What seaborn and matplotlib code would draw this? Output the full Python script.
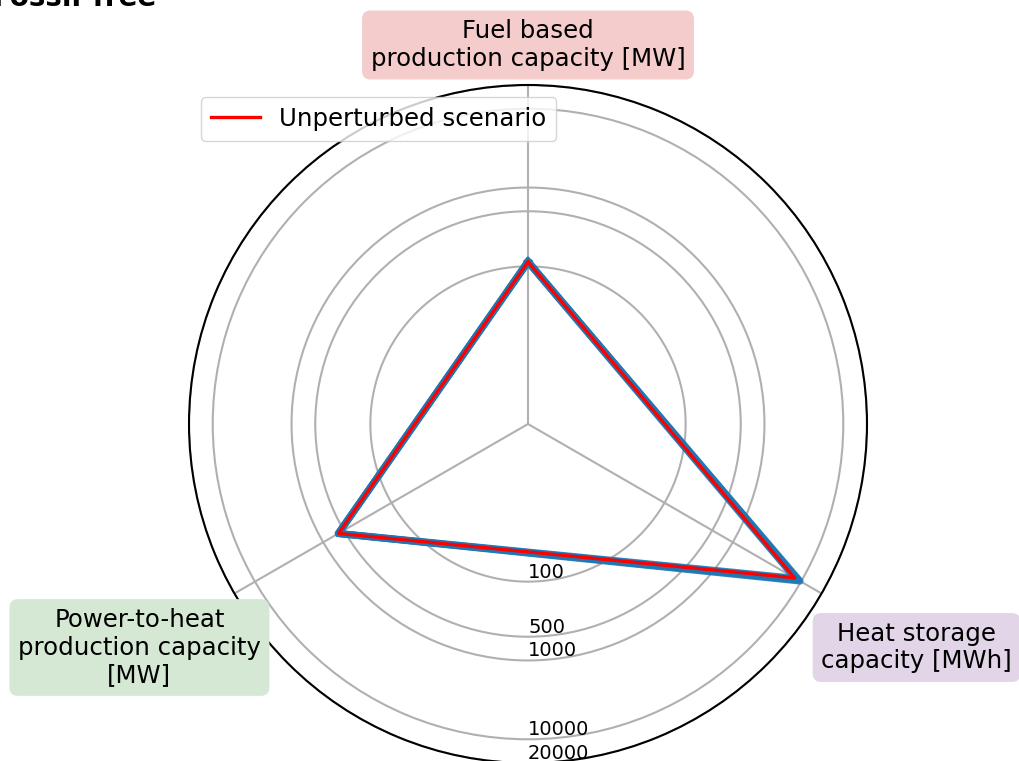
import numpy as np
import pandas as pd
import seaborn as sns
import matplotlib.pyplot as plt

# categories, clockwise from the top
categories = ['Fuel based\nproduction capacity [MW]',
              'Heat storage\ncapacity [MWh]',
              'Power-to-heat\nproduction capacity\n[MW]']
label_colors = ['#f4cccc', '#e1d5e7', '#d5e8d4']

unperturbed = [114, 8030, 598]
perturbed = {
    'p1': [113, 8200, 596],
    'p2': [115, 8700, 602],
    'p3': [116, 9200, 600],
    'p4': [114, 9700, 605],
}

r_ticks = [100, 500, 1000, 10000, 20000]
r_tick_labels = ['100', '500', '1000', '10000', '20000']

angles = np.linspace(0, 2 * np.pi, len(categories), endpoint=False)
closed_angles = np.append(angles, angles[0] + 2 * np.pi)

rows = []
for name, vals in perturbed.items():
    for a, v in zip(closed_angles, vals + vals[:1]):
        rows.append({'scenario': name, 'theta': a, 'value': v})
df_pert = pd.DataFrame(rows)
df_base = pd.DataFrame({'theta': closed_angles, 'value': unperturbed + unperturbed[:1]})

fig = plt.figure(figsize=(10.19, 7.61), dpi=100)
ax = fig.add_axes([189 / 1019, (761 - 424 - 339) / 761, 678 / 1019, 678 / 761], projection='polar')
ax.set_theta_offset(np.pi / 2)
ax.set_theta_direction(-1)
ax.set_rscale('log')

sns.lineplot(data=df_pert, x='theta', y='value', units='scenario', estimator=None,
             sort=False, color='#1f77b4', lw=5, alpha=0.85, ax=ax, legend=False)
sns.lineplot(data=df_base, x='theta', y='value', sort=False, color='red', lw=2.4,
             ax=ax, label='Unperturbed scenario')

ax.set_rlim(1, 20000)
ax.set_rticks(r_ticks)
ax.set_yticklabels(r_tick_labels, fontsize=14)
ax.set_rlabel_position(180)
ax.set_thetagrids(np.degrees(angles), labels=['', '', ''])
ax.grid(True, color='#b0b0b0', lw=1.5)
ax.spines['polar'].set_linewidth(1.5)
ax.set_xlabel('')
ax.set_ylabel('')
ax.tick_params(axis='y', length=0)

# category labels around the chart
offsets = [(0, 40), (95, -54), (-95, -54)]
for a, lab, col, off in zip(angles, categories, label_colors, offsets):
    ax.annotate(lab, xy=(a, 20000), xytext=off, textcoords='offset pixels',
                ha='center', va='center', fontsize=17.6, annotation_clip=False,
                bbox=dict(boxstyle='round,pad=0.35', fc=col, ec='none'))

ax.legend(loc='upper left', fontsize=17.6)

fig.text(157 / 1019, 1 - 6 / 761, 'Fossil-free', ha='right', va='baseline',
         fontsize=20, fontweight='bold')

fig.savefig('out.png', dpi=100)
